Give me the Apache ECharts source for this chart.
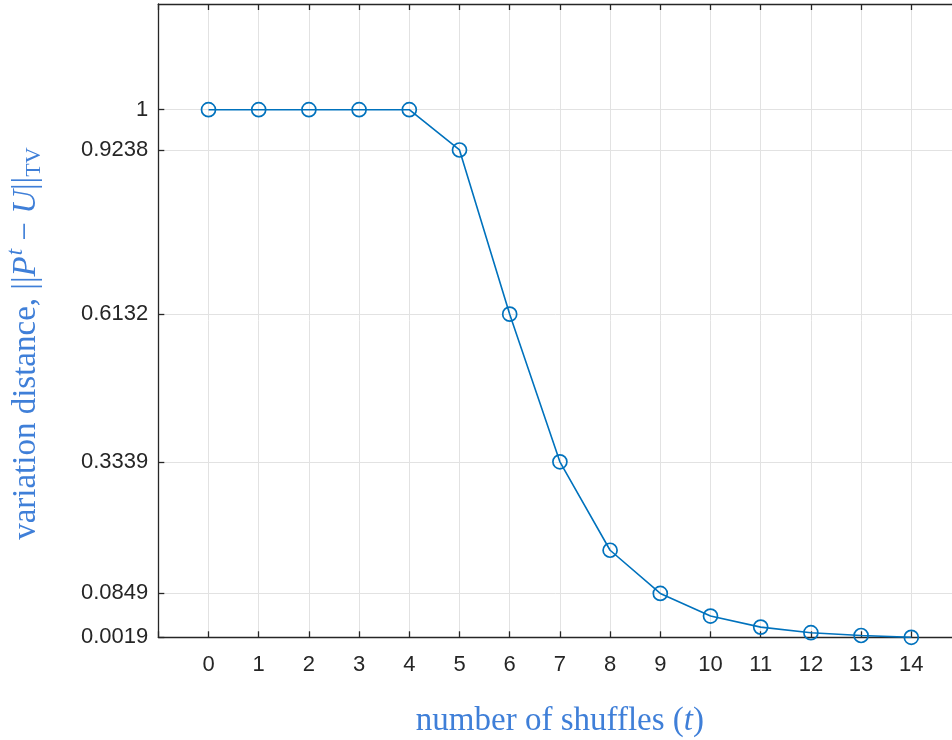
<!DOCTYPE html>
<html>
<head>
<meta charset="utf-8">
<script src="https://cdn.jsdelivr.net/npm/echarts@6/dist/echarts.min.js"></script>
<style>
  html, body { margin: 0; padding: 0; background: #ffffff; }
  #chart { width: 952px; height: 740px; }
</style>
</head>
<body>
<div id="chart"></div>
<script>
// ---- data ----
const shuffles = [0, 1, 2, 3, 4, 5, 6, 7, 8, 9, 10, 11, 12, 13, 14];
const distance = [1, 1, 1, 1, 1, 0.9238, 0.6132, 0.3339, 0.1666, 0.0849, 0.0421, 0.0212, 0.0106, 0.0053, 0.0019];
const yTickValues = [0.0019, 0.0849, 0.3339, 0.6132, 0.9238, 1];
const xTickLabels = ['0', '1', '2', '3', '4', '5', '6', '7', '8', '9', '10', '11', '12', '13', '14'];

const labelBlue = '#3f7fd8';
const lineBlue = '#0072BD';
const axisColor = '#262626';
const gridColor = '#e2e2e2';
const serif = '"Liberation Serif", "DejaVu Serif", serif';
const sans = '"Liberation Sans", Arial, Helvetica, sans-serif';

const chart = echarts.init(document.getElementById('chart'), null, { renderer: 'canvas' });

const xLabelFmt = function (v) {
  const idx = shuffles.indexOf(Math.round(v));
  return (Math.abs(v - Math.round(v)) < 1e-9 && idx >= 0) ? xTickLabels[idx] : '';
};

const nameRich = {
  a: { fontFamily: serif, fontSize: 33, color: labelBlue },
  i: { fontFamily: serif, fontSize: 33, fontStyle: 'italic', color: labelBlue },
  sup: { fontFamily: serif, fontSize: 23, fontStyle: 'italic', color: labelBlue, padding: [0, 0, 22, 1] },
  sub: { fontFamily: serif, fontSize: 22, color: labelBlue, padding: [14, 0, 0, 0] }
};

const option = {
  animation: false,
  backgroundColor: '#ffffff',
  grid: {
    left: 158.3,
    top: 4,
    right: -9.5,
    bottom: 102.7,
    containLabel: false,
    outerBoundsMode: 'none'
  },
  xAxis: [
    {
      type: 'value',
      position: 'bottom',
      min: -1,
      max: 15,
      interval: 1,
      name: '{a|number of shuffles (}{i|t}{a|)}',
      nameLocation: 'middle',
      nameGap: 68,
      nameTextStyle: { rich: nameRich },
      axisLine: { show: true, onZero: false, lineStyle: { color: axisColor, width: 1.3 } },
      axisTick: { show: true, inside: true, length: 6, lineStyle: { color: axisColor, width: 1.3 } },
      axisLabel: { show: true, margin: 17, fontFamily: sans, fontSize: 22, color: axisColor, formatter: xLabelFmt },
      splitLine: { show: true, lineStyle: { color: gridColor, width: 1 } }
    },
    {
      type: 'value',
      position: 'top',
      min: -1,
      max: 15,
      interval: 1,
      axisLine: { show: true, onZero: false, lineStyle: { color: axisColor, width: 1.3 } },
      axisTick: { show: true, inside: true, length: 6, lineStyle: { color: axisColor, width: 1.3 } },
      axisLabel: { show: false },
      splitLine: { show: false }
    }
  ],
  yAxis: {
    type: 'value',
    min: 0.0019,
    max: 1.2,
    name: '{a|variation distance, ||}{i|P}{sup|t}{a| − }{i|U}{a|||}{sub|TV}',
    nameLocation: 'middle',
    nameRotate: 90,
    nameGap: 109,
    nameTextStyle: { rich: nameRich, padding: [0, 46, 0, 0] },
    axisLine: { show: true, onZero: false, lineStyle: { color: axisColor, width: 1.3 } },
    axisTick: { show: true, inside: true, length: 6, customValues: yTickValues, lineStyle: { color: axisColor, width: 1.3 } },
    axisLabel: {
      show: true,
      margin: 10,
      fontFamily: sans,
      fontSize: 22,
      color: axisColor,
      customValues: yTickValues,
      formatter: function (v) { return String(v); }
    },
    splitLine: { show: true, lineStyle: { color: gridColor, width: 1 } }
  },
  series: [
    {
      type: 'line',
      xAxisIndex: 0,
      data: shuffles.map(function (t, i) { return [t, distance[i]]; }),
      symbol: 'circle',
      symbolSize: 14,
      showSymbol: true,
      lineStyle: { color: lineBlue, width: 1.6 },
      itemStyle: { color: 'rgba(0,0,0,0)', borderColor: lineBlue, borderWidth: 1.7 },
      emphasis: { disabled: true },
      z: 5
    }
  ]
};

chart.setOption(option);
</script>
</body>
</html>
